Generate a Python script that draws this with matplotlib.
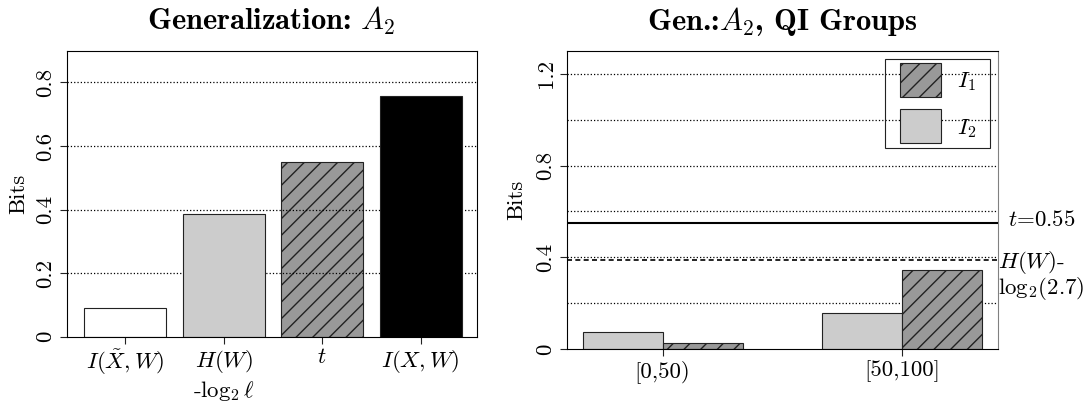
import matplotlib
matplotlib.use("Agg")
import matplotlib.pyplot as plt
import matplotlib.patches as mpatches
import matplotlib.transforms as mtransforms
from matplotlib.legend_handler import HandlerPatch

plt.rcParams['font.family'] = 'serif'
plt.rcParams['font.serif'] = ['cmr10']
plt.rcParams['mathtext.fontset'] = 'cm'
plt.rcParams['axes.unicode_minus'] = False
plt.rcParams['hatch.linewidth'] = 1.0

# left panel: generalization A2
measures = [r'$I(\tilde{X},W)$', '$H(W)$\n-$\\mathrm{log}_2\\,\\ell$', '$t$', '$I(X,W)$']
bits = [0.091, 0.386, 0.549, 0.757]
bar_colors = ['white', '#cccccc', '#999999', 'black']
bar_hatch = ['', '', '//', '']
left_ticks = [0, 0.2, 0.4, 0.6, 0.8]
left_ticklabels = ['0', '0.2', '0.4', '0.6', '0.8']

# right panel: QI groups
groups = ['[0,50)', '[50,100]']
i1 = [0.026, 0.345]
i2 = [0.074, 0.157]
t_val = 0.55
hw_val = 0.387
right_grid = [0.2, 0.4, 0.6, 0.8, 1.0, 1.2]
right_ticks = [0, 0.4, 0.8, 1.2]
right_ticklabels = ['0', '0.4', '0.8', '1.2']

fs = 16.5
tfs = 22

fig = plt.figure(figsize=(10.84, 4.03), dpi=100)
ax1 = fig.add_axes([66.7/1084, (403-336.7)/403, 410/1084, 286/403])
ax2 = fig.add_axes([566.7/1084, (403-349.3)/403, 431.6/1084, 298.6/403])

# ---- left
x1 = [0.7 + 1.2*i for i in range(len(bits))]
for g in left_ticks[1:]:
    ax1.axhline(g, color='k', ls=':', lw=0.9, zorder=1)
bars = ax1.bar(x1, bits, width=1, color=bar_colors, edgecolor='#222222', lw=0.8, zorder=2)
for b, h in zip(bars, bar_hatch):
    b.set_hatch(h)
    if h:
        b.set_zorder(0.5)
ax1.set_xlim(-0.016, 4.984)
ax1.set_ylim(0, 0.9)
ax1.set_xticks(x1)
ax1.set_xticklabels(measures, fontsize=fs, linespacing=1.25)
ax1.set_yticks(left_ticks)
ax1.set_yticklabels(left_ticklabels, rotation=90, va='center', fontsize=fs)
ax1.set_ylabel('Bits', fontsize=fs)
ax1.yaxis.set_label_coords(-0.094, 0.5)
ax1.set_title('Generalization: $A_2$', fontfamily='cmb10', fontsize=tfs, pad=15)

# ---- right
for g in right_grid:
    ax2.axhline(g, color='k', ls=':', lw=0.9, zorder=1)
xg = [1, 4]
b2 = ax2.bar([p - 0.5 for p in xg], i2, width=1, color='#cccccc', edgecolor='#222222', lw=0.8, zorder=2)
b1 = ax2.bar([p + 0.5 for p in xg], i1, width=1, color='#999999', edgecolor='#222222', lw=0.8, zorder=2)
for b in b1:
    b.set_hatch('//')
ax2.axhline(t_val, color='k', lw=1.5, zorder=3)
ax2.axhline(hw_val, color='k', lw=1.2, ls=(0, (3, 2)), zorder=3)
ax2.set_xlim(-0.2, 5.2)
ax2.set_ylim(0, 1.3)
ax2.set_xticks(xg)
ax2.set_xticklabels(groups, fontsize=fs)
ax2.set_yticks(right_ticks)
ax2.set_yticklabels(right_ticklabels, rotation=90, va='center', fontsize=fs)
ax2.set_ylabel('Bits', fontsize=fs)
ax2.yaxis.set_label_coords(-0.094, 0.5)
ax2.set_title('Gen.:$A_2$, QI Groups', fontfamily='cmb10', fontsize=tfs, pad=15)
ax2.spines['right'].set_color('#808080')

tr = mtransforms.blended_transform_factory(ax2.transAxes, ax2.transData)
ax2.text(1.18, 0.562, '$t$=0.55', transform=tr, ha='right', va='center', fontsize=fs, clip_on=False)
ax2.text(1.0, 0.323, '$H(W)$-\n$\\mathrm{log}_2$(2.7)', transform=tr, ha='left', va='center',
         fontsize=fs, linespacing=0.95, clip_on=False)


def inset_patch(legend, orig_handle, xdescent, ydescent, width, height, fontsize):
    return mpatches.Rectangle((-xdescent + 7.6, -ydescent), width - 7.6, height)


h1 = mpatches.Patch(facecolor='#999999', edgecolor='#222222', hatch='//', lw=0.8)
h2 = mpatches.Patch(facecolor='#cccccc', edgecolor='#222222', lw=0.8)
leg = ax2.legend([h1, h2], ['$I_1$  ', '$I_2$  '], loc='upper right', fontsize=fs,
                 handlelength=2.25, handleheight=1.93, handletextpad=0.69, labelspacing=0.51,
                 borderpad=0.19, borderaxespad=0.35, fancybox=False,
                 handler_map={mpatches.Patch: HandlerPatch(patch_func=inset_patch)})
frame = leg.get_frame()
frame.set_facecolor('none')
frame.set_edgecolor('#222222')
frame.set_alpha(None)
frame.set_linewidth(0.8)

for ax in (ax1, ax2):
    ax.tick_params(axis='both', direction='out', length=5, width=0.8, color='#222222')
    ax.tick_params(axis='y', pad=3)
    ax.tick_params(axis='x', pad=3)
    for s in ax.spines.values():
        s.set_linewidth(0.8)

fig.savefig('out.png', dpi=100)
